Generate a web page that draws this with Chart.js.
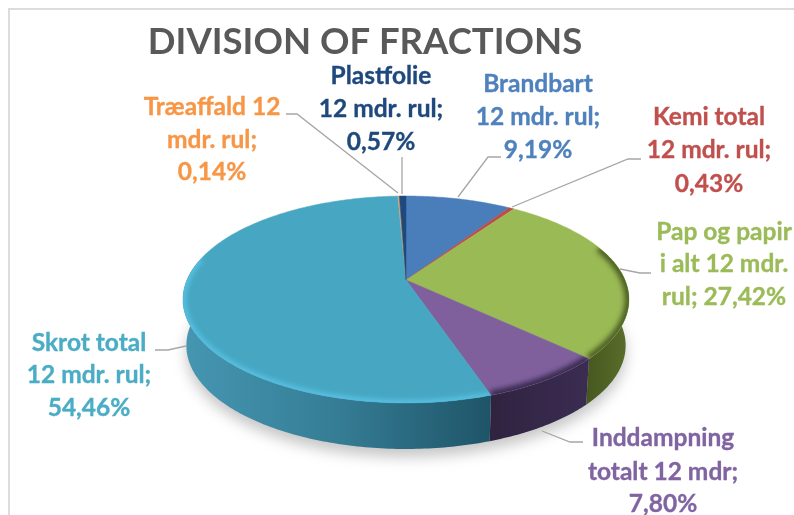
<!DOCTYPE html>
<html><head><meta charset="utf-8">
<style>html,body{margin:0;padding:0;background:#fff;overflow:hidden}
canvas{position:absolute;left:0;top:0;filter:blur(0.45px)}</style>
<script src="https://cdn.jsdelivr.net/npm/chart.js@4"></script>
</head><body><canvas id="c" width="794" height="515"></canvas>
<script>
const categories=['Brandbart 12 mdr. rul','Kemi total 12 mdr. rul','Pap og papir i alt 12 mdr. rul','Inddampning totalt 12 mdr','Skrot total 12 mdr. rul','Træaffald 12 mdr. rul','Plastfolie 12 mdr. rul'];
const shares=[9.19,0.43,27.42,7.80,54.46,0.14,0.57];
const faceColors=['#4a7ebb','#be4b48','#9aba55','#7f609d','#47a7c3','#c9a27a','#1f497d'];
const textColors=['#4f81bd','#c0504d','#9bbb59','#8064a2','#4bacc6','#f79646','#1f497d'];
const sideColors=[['#2c4d75','#2c4d75'],['#7a2f2d','#7a2f2d'],['#5a6e2c','#46581f'],['#3b2c52','#30233f'],['#4a9cb9','#1f5468'],['#96591f','#96591f'],['#12294a','#12294a']];
const rimColors=['#5d93d1','#d05c58','#4f6126','#3a2b50','#58c2e4','#f79646','#1f497d'];
const labelLines=[['Brandbart','12 mdr. rul;','9,19%'],['Kemi total','12 mdr. rul;','0,43%'],['Pap og papir','i alt 12 mdr.','rul; 27,42%'],['Inddampning','totalt 12 mdr;','7,80%'],['Skrot total','12 mdr. rul;','54,46%'],['Træaffald 12','mdr. rul;','0,14%'],['Plastfolie','12 mdr. rul;','0,57%']];
const labelCentreX=[538,709,724,663,89,212,381];
const labelMiddleY=[[84,117,150],[117,150,184],[232,264,297],[438,472,504],[343,375,408],[107,140,172],[76,109,142]];
const leaders=[[[501,157],[488,157],[458,197]],[[641,159],[628,159],[512,207]],[[651,273],[640,273],[620,269]],[[583,442],[570,442],[542,431]],[[155,350],[168,350],[186,346]],[[286,114],[297,114],[398,193]],[[402,157],[402,194]]];

const AX=406,AY=280,K=0.1884,RA=99.8,RB=219,DEPTH=46,SHRINK=0.985;
function proj(a,r){const u=r*Math.cos(a),v=r*Math.sin(a),w=1-K*v;return [AX+RB*u/w,AY+RA*v/w];}
function low(a){const p=proj(a,1);return [AX+(p[0]-AX)*SHRINK,p[1]+DEPTH];}
function arcPts(a0,a1,fn){const n=Math.max(2,Math.ceil(Math.abs(a1-a0)/0.015)),o=[];for(let i=0;i<=n;i++)o.push(fn(a0+(a1-a0)*i/n));return o;}
function trace(ctx,pts,close){ctx.beginPath();pts.forEach((p,i)=>i?ctx.lineTo(p[0],p[1]):ctx.moveTo(p[0],p[1]));if(close)ctx.closePath();}
const rim=a=>proj(a,1);
const pie3d={id:'pie3d',
 beforeDatasetsDraw(chart){
  const ctx=chart.ctx,arcs=chart.getDatasetMeta(0).data,TWO=Math.PI*2;
  ctx.save();
  // soft ground shadow
  ctx.save();ctx.filter='blur(7px)';ctx.fillStyle='rgba(120,120,120,.42)';
  trace(ctx,arcPts(0,TWO,low).map(p=>[p[0],p[1]+8]),true);ctx.fill();ctx.restore();
  // side wall
  arcs.forEach((el,i)=>{
   for(const sh of [0,TWO]){
    const s=Math.max(el.startAngle-sh,-0.2),e=Math.min(el.endAngle-sh,Math.PI+0.2);
    if(e<=s)continue;
    const top=arcPts(s,e,rim),bot=arcPts(e,s,low),pts=top.concat(bot);
    const xs=pts.map(p=>p[0]),x0=Math.min(...xs),x1=Math.max(...xs);
    const g=ctx.createLinearGradient(x0,0,x1,0);
    if(i===4){g.addColorStop(0,'#4696b2');g.addColorStop(.5,'#357d95');g.addColorStop(1,'#1f5468');}
    else{g.addColorStop(0,sideColors[i][1]);g.addColorStop(1,sideColors[i][0]);}
    ctx.fillStyle=g;trace(ctx,pts,true);ctx.fill();
   }
  });
  // top faces
  arcs.forEach((el,i)=>{
   const pts=[[AX,AY]].concat(arcPts(el.startAngle,el.endAngle,rim));
   ctx.fillStyle=faceColors[i];ctx.strokeStyle=faceColors[i];ctx.lineWidth=.5;
   trace(ctx,pts,true);ctx.fill();ctx.stroke();
   // bevel along the visible front rim
   const s=Math.max(el.startAngle,-0.35),e=Math.min(el.endAngle,Math.PI+0.22);
   if(e>s&&i!==0){
    ctx.save();trace(ctx,pts,true);ctx.clip();
    ctx.filter='blur(2.5px)';ctx.strokeStyle=rimColors[i];ctx.lineWidth=i===4?6:9;
    trace(ctx,arcPts(s,e,rim),false);ctx.stroke();ctx.restore();
   }
  });
  ctx.restore();
  return false;
 },
 afterDraw(chart){
  const ctx=chart.ctx;ctx.save();
  // frame
  ctx.strokeStyle='#dcdcdc';ctx.lineWidth=2;ctx.beginPath();ctx.moveTo(794,9);ctx.lineTo(9,9);ctx.lineTo(9,515);ctx.stroke();
  // leaders
  ctx.strokeStyle='#a6a6a6';ctx.lineWidth=1.3;
  leaders.forEach(l=>{trace(ctx,l,false);ctx.stroke();});
  // labels
  ctx.font='bold 24.5px Lato';ctx.textAlign='center';ctx.textBaseline='middle';ctx.lineWidth=.35;
  labelLines.forEach((lines,i)=>{ctx.fillStyle=ctx.strokeStyle=textColors[i];lines.forEach((t,j)=>{ctx.fillText(t,labelCentreX[i],labelMiddleY[i][j]);ctx.strokeText(t,labelCentreX[i],labelMiddleY[i][j]);});});
  ctx.restore();
 }};
new Chart(document.getElementById('c'),{type:'pie',
 data:{labels:categories,datasets:[{data:shares,backgroundColor:faceColors,borderWidth:0}]},
 options:{responsive:false,animation:false,
  layout:{padding:{top:0,right:64}},
  plugins:{legend:{display:false},tooltip:{enabled:false},
   title:{display:true,text:'DIVISION OF FRACTIONS',color:'#595959',font:{family:'Lato',size:36.5,weight:'bold'},padding:{top:20,bottom:0}}}},
 plugins:[pie3d]});
</script></body></html>
